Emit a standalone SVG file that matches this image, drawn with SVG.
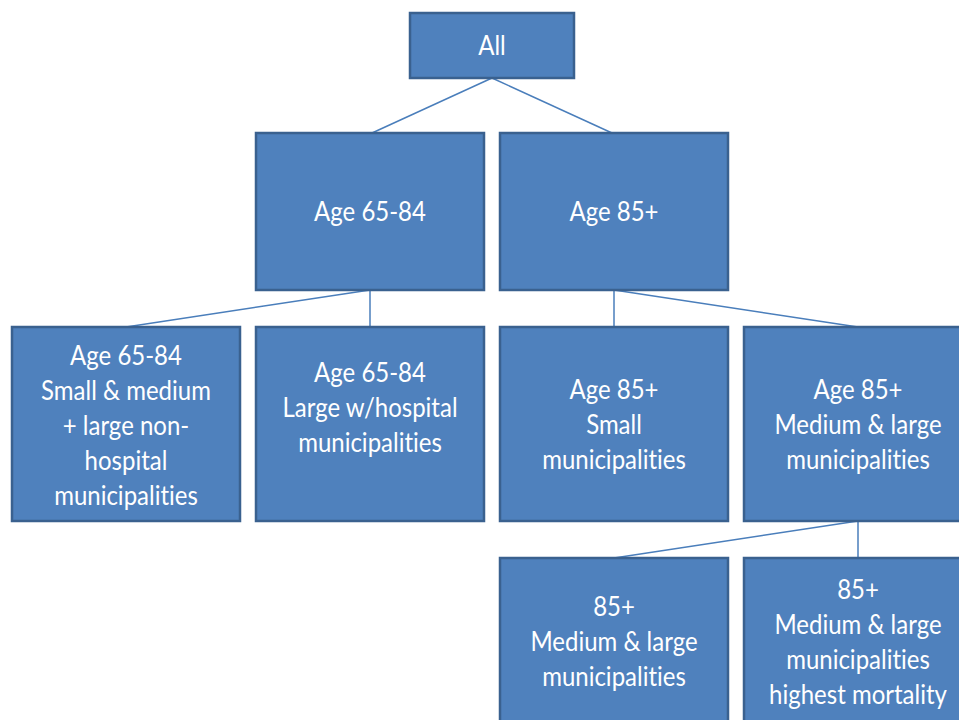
<svg xmlns="http://www.w3.org/2000/svg" width="959" height="720" viewBox="0 0 959 720">
<style>
.box{fill:#4F81BD;stroke:#3A618F;stroke-width:2.5}
.t{fill:#FFFFFF;font-family:Lato,"Open Sans",sans-serif;font-size:24px;text-anchor:middle;font-variant-ligatures:none;font-feature-settings:"liga" 0}
.c{stroke:#4A7EBB;stroke-width:1.5;fill:none}
</style>
<rect width="959" height="720" fill="#FFFFFF"/>
<g id="connectors">
<line class="c" x1="492" y1="78" x2="372" y2="133"/>
<line class="c" x1="492" y1="78" x2="612" y2="133"/>
<line class="c" x1="370" y1="290" x2="126" y2="327"/>
<line class="c" x1="370" y1="290" x2="370" y2="327"/>
<line class="c" x1="614" y1="290" x2="614" y2="327"/>
<line class="c" x1="614" y1="290" x2="858" y2="327"/>
<line class="c" x1="858" y1="521" x2="614" y2="558"/>
<line class="c" x1="858" y1="521" x2="858" y2="558"/>
</g>
<g id="n-all">
<rect class="box" x="410" y="13" width="164" height="65"/>
<text class="t" transform="translate(492,55) scale(1,1.12)"><tspan x="0" y="0">All</tspan></text>
</g>
<g id="n-6584">
<rect class="box" x="256" y="133" width="228" height="157"/>
<text class="t" transform="translate(370,221) scale(1,1.12)"><tspan x="0" y="0">Age 65-84</tspan></text>
</g>
<g id="n-85">
<rect class="box" x="500" y="133" width="228" height="157"/>
<text class="t" transform="translate(614,221) scale(1,1.12)"><tspan x="0" y="0">Age 85+</tspan></text>
</g>
<g id="n-6584-small">
<rect class="box" x="12" y="327" width="228" height="194"/>
<text class="t" transform="translate(126,365) scale(1,1.12)"><tspan x="0" y="0">Age 65-84</tspan><tspan x="0" y="31.25">Small &amp; medium</tspan><tspan x="0" y="62.5">+ large non-</tspan><tspan x="0" y="93.75">hospital</tspan><tspan x="0" y="125">municipalities</tspan></text>
</g>
<g id="n-6584-large">
<rect class="box" x="256" y="327" width="228" height="194"/>
<text class="t" transform="translate(370,382) scale(1,1.12)"><tspan x="0" y="0">Age 65-84</tspan><tspan x="0" y="31.25">Large w/hospital</tspan><tspan x="0" y="62.5">municipalities</tspan></text>
</g>
<g id="n-85-small">
<rect class="box" x="500" y="327" width="228" height="194"/>
<text class="t" transform="translate(614,399) scale(1,1.12)"><tspan x="0" y="0">Age 85+</tspan><tspan x="0" y="31.25">Small</tspan><tspan x="0" y="62.5">municipalities</tspan></text>
</g>
<g id="n-85-medlarge">
<rect class="box" x="744" y="327" width="228" height="194"/>
<text class="t" transform="translate(858,399) scale(1,1.12)"><tspan x="0" y="0">Age 85+</tspan><tspan x="0" y="31.25">Medium &amp; large</tspan><tspan x="0" y="62.5">municipalities</tspan></text>
</g>
<g id="n-85-ml">
<rect class="box" x="500" y="558" width="228" height="194"/>
<text class="t" transform="translate(614,616) scale(1,1.12)"><tspan x="0" y="0">85+</tspan><tspan x="0" y="31.25">Medium &amp; large</tspan><tspan x="0" y="62.5">municipalities</tspan></text>
</g>
<g id="n-85-ml-high">
<rect class="box" x="744" y="558" width="228" height="194"/>
<text class="t" transform="translate(858,599) scale(1,1.12)"><tspan x="0" y="0">85+</tspan><tspan x="0" y="31.25">Medium &amp; large</tspan><tspan x="0" y="62.5">municipalities</tspan><tspan x="0" y="93.75">highest mortality</tspan></text>
</g>
</svg>
